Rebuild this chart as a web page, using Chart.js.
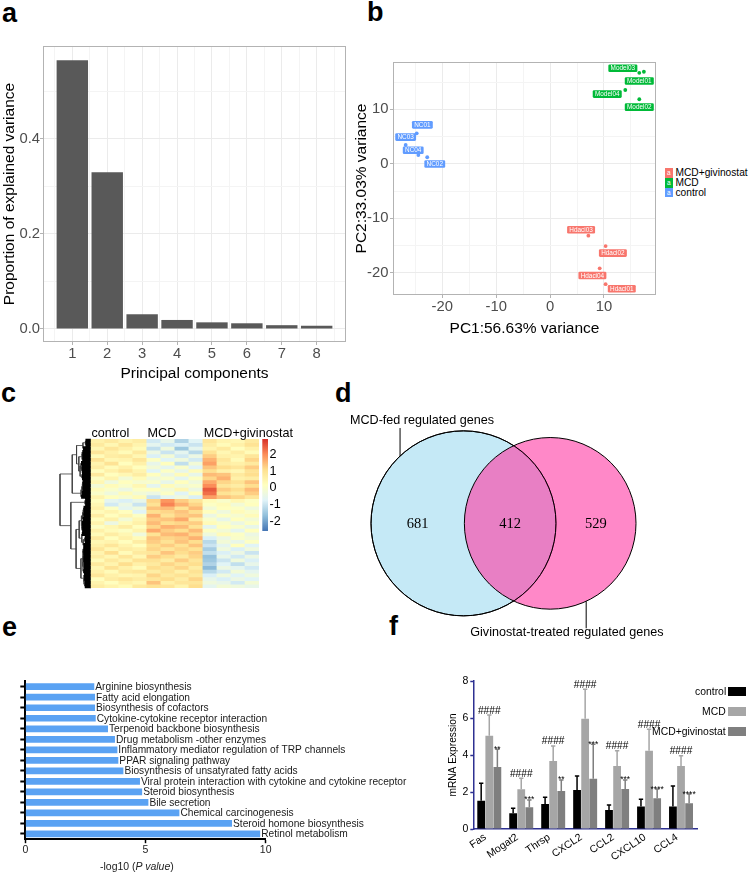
<!DOCTYPE html>
<html>
<head>
<meta charset="utf-8">
<title>PCA, heatmap, Venn, KEGG and qPCR panels</title>
<script src="https://cdn.jsdelivr.net/npm/chart.js@4.4.1/dist/chart.umd.min.js"></script>
<style>
  html, body { margin:0; padding:0; background:#ffffff; }
  body { position:relative; width:749px; height:872px; overflow:hidden; font-family:"Liberation Sans", Arial, Helvetica, sans-serif; color:#000; }
  canvas { position:absolute; }
  .panel { position:absolute; font-weight:bold; font-size:27px; line-height:27px; }
  .abs { position:absolute; white-space:nowrap; }
</style>
</head>
<body>
<div class="panel" style="left:2px;top:0px">a</div>
<div class="panel" style="left:367px;top:-1px">b</div>
<div class="panel" style="left:1px;top:380px">c</div>
<div class="panel" style="left:335px;top:380px">d</div>
<div class="panel" style="left:2px;top:614px">e</div>
<div class="panel" style="left:389px;top:613px">f</div>

<canvas id="chartA"></canvas>
<canvas id="chartB"></canvas>
<canvas id="chartDendro"></canvas>
<canvas id="chartHeat"></canvas>
<canvas id="chartScale"></canvas>
<canvas id="chartVenn"></canvas>
<canvas id="chartE"></canvas>
<canvas id="chartF"></canvas>
<div id="overlay"></div>

<script>
// ================= DATA =================
// a: PCA scree
const pcComponents = [1, 2, 3, 4, 5, 6, 7, 8];
const pcVariance = [0.566, 0.330, 0.031, 0.019, 0.014, 0.012, 0.008, 0.007];
const pcXLabels = ['1', '2', '3', '4', '5', '6', '7', '8'];
const pcXMinor = [0.5, 1.5, 2.5, 3.5, 4.5, 5.5, 6.5, 7.5, 8.5];
const pcYTicks = [0, 0.1, 0.2, 0.3, 0.4, 0.5];
const pcYLabels = ['0.0', '', '0.2', '', '0.4', ''];

// b: PCA scores
const pcaGroups = ['MCD+givinostat', 'MCD', 'control'];
const pcaColors = ['#F8766D', '#00BA38', '#619CFF'];
const sampleNames = ['NC01', 'NC02', 'NC03', 'NC04', 'Model01', 'Model02', 'Model03', 'Model04', 'Hdaci01', 'Hdaci02', 'Hdaci03', 'Hdaci04'];
const sampleGroup = ['control', 'control', 'control', 'control', 'MCD', 'MCD', 'MCD', 'MCD', 'MCD+givinostat', 'MCD+givinostat', 'MCD+givinostat', 'MCD+givinostat'];
const samplePC1 = [-24.75, -22.8, -26.8, -24.45, 17.4, 16.55, 16.55, 13.95, 10.3, 10.3, 7.1, 9.2];
const samplePC2 = [5.6, 1.2, 3.45, 1.6, 16.9, 11.85, 16.7, 13.55, -22.1, -15.1, -13.2, -19.2];
const labelPC1 = [-23.7, -21.4, -26.8, -25.4, 16.55, 16.55, 13.5, 10.6, 13.3, 11.65, 5.75, 7.85];
const labelPC2 = [7.15, -0.05, 4.9, 2.5, 15.2, 10.4, 17.55, 12.8, -22.95, -16.4, -12.1, -20.5];
const pcaXTicks = [-25, -20, -15, -10, -5, 0, 5, 10, 15];
const pcaXLabels = ['', '-20', '', '-10', '', '0', '', '10', ''];
const pcaYTicks = [-20, -15, -10, -5, 0, 5, 10, 15];
const pcaYLabels = ['-20', '', '-10', '', '0', '', '10', ''];

// c: heatmap (rows top to bottom; columns = 4 control, 4 MCD, 4 MCD+givinostat)
const heatGroups = ['control', 'MCD', 'MCD+givinostat'];
const heatGroupStart = [0, 4, 8];
const heatSamples = ['NC01', 'NC02', 'NC03', 'NC04', 'Model01', 'Model02', 'Model03', 'Model04', 'Hdaci01', 'Hdaci02', 'Hdaci03', 'Hdaci04'];
const heatRows = [
  [0.6, 0.8, 0.5, 0.7, -0.9, -0.5, -1.3, -0.7, 0.9, 0.5, 0.4, 0.8],
  [0.8, 0.4, 0.9, 0.5, -0.6, -0.9, -0.8, -1.0, 0.7, 0.3, 0.6, 1.0],
  [0.4, 0.9, 0.6, 0.3, -1.1, -0.3, -1.5, -0.6, 0.5, 0.8, 0.2, 0.6],
  [0.9, 0.6, 0.3, 0.8, -0.4, -1.0, -0.6, -1.2, 1.0, 0.4, 0.7, 0.3],
  [0.3, 0.7, 0.8, 0.4, -0.8, -0.2, -0.9, -0.4, 1.3, 0.6, 0.5, 0.9],
  [1.0, 0.4, 0.5, 0.9, 0.1, -0.7, -0.3, -0.9, 1.6, 0.9, 0.3, 1.2],
  [0.5, 1.0, 0.2, 0.6, -0.5, 0.2, -1.1, -0.2, 1.8, 0.7, 0.6, 0.8],
  [0.7, 0.3, 0.6, 0.2, -0.2, -0.6, 0.0, -0.7, 1.4, 1.1, 0.9, 1.3],
  [0.2, 0.6, 0.9, 0.5, -0.7, 0.1, -0.5, 0.3, 1.1, 0.6, 0.4, 1.0],
  [0.8, 0.2, 0.4, 0.7, 0.2, -0.4, 0.3, -0.5, 1.5, 1.4, 0.8, 1.1],
  [0.1, 0.5, -0.2, 0.3, -0.3, 0.0, -0.6, 0.1, 1.2, 1.6, 0.6, 0.7],
  [0.4, -0.3, 0.2, -0.1, 0.0, -0.5, 0.2, -0.3, 1.7, 1.2, 1.0, 1.4],
  [-0.2, 0.3, 0.0, 0.4, -0.6, 0.3, -0.2, 0.0, 2.0, 0.9, 0.7, 1.1],
  [0.3, 0.0, -0.4, 0.1, 0.2, -0.2, 0.4, -0.4, 2.5, 1.3, 1.1, 1.5],
  [0.0, -0.3, 0.3, -0.2, -0.4, 0.1, -0.7, 0.2, 2.3, 1.0, 0.8, 1.3],
  [0.5, 0.2, -0.1, 0.3, -1.0, -0.6, -0.3, -0.8, 1.8, 1.4, 1.2, 0.9],
  [0.2, -0.6, -0.8, -0.5, 1.2, 1.9, 1.3, 0.9, 0.3, 0.0, 0.4, 0.1],
  [0.4, -0.9, -0.4, -1.0, 1.0, 2.1, 1.6, 1.2, 0.1, 0.3, -0.2, 0.2],
  [0.6, 0.1, -0.6, -0.3, 1.4, 1.5, 1.0, 1.5, -0.2, 0.2, 0.1, -0.3],
  [0.3, 0.5, 0.2, -0.7, 1.1, 1.2, 1.4, 1.1, 0.2, -0.3, 0.3, 0.0],
  [0.7, 0.2, 0.5, 0.1, 1.6, 1.0, 1.3, 1.4, -0.4, 0.1, -0.1, 0.3],
  [0.2, 0.6, -0.2, 0.4, 1.3, 1.4, 1.7, 0.8, 0.0, -0.5, 0.2, -0.2],
  [0.5, -0.4, 0.3, 0.6, 1.5, 1.1, 1.2, 1.3, 0.3, 0.0, -0.4, 0.1],
  [0.1, 0.4, 0.7, 0.2, 1.2, 1.6, 1.5, 1.0, -0.6, 0.2, 0.0, -0.5],
  [0.6, 0.3, 0.1, 0.5, 1.7, 1.3, 1.1, 1.5, 0.1, -0.2, -0.6, 0.2],
  [0.3, 0.7, 0.4, -0.3, 1.0, 1.5, 1.6, 1.2, -0.3, 0.3, 0.1, -0.4],
  [0.8, 0.2, 0.6, 0.3, 1.4, 1.2, 1.3, 1.6, -0.8, -0.4, 0.0, -0.2],
  [0.4, 0.5, 0.2, 0.7, 1.3, 1.0, 1.4, 1.1, -1.2, -0.2, -0.5, 0.1],
  [0.6, 0.9, 0.5, 0.2, 1.1, 1.3, 1.0, 1.4, -1.0, -0.6, 0.2, -0.7],
  [0.9, 0.4, 0.7, 0.6, 1.2, 0.9, 1.2, 1.0, -1.4, -0.3, -0.8, -0.3],
  [0.5, 1.1, 0.3, 0.8, 0.9, 1.4, 1.1, 1.3, -1.1, -0.8, -0.4, -1.0],
  [0.7, 0.4, 0.9, 0.4, 1.3, 1.1, 0.8, 1.2, -1.6, -0.5, -0.9, -0.4],
  [0.3, 0.8, 0.5, 1.0, 1.0, 0.7, 1.3, 0.9, -1.5, -1.0, -0.3, -0.8],
  [0.8, 0.5, 1.1, 0.6, 0.8, 1.2, 0.9, 1.1, -1.3, -0.7, -1.1, -0.5],
  [0.4, 1.0, 0.6, 0.3, 1.1, 0.9, 1.2, 0.7, -1.7, -0.4, -0.6, -0.9],
  [0.6, 0.3, 0.8, 0.9, 0.7, 1.0, 0.6, 1.0, -1.2, -0.9, -0.2, -0.6],
  [0.9, 0.6, 0.4, 0.5, 1.2, 0.8, 1.0, 0.8, -0.8, -0.3, -0.7, -0.3],
  [0.2, 0.7, 0.9, 0.7, 0.9, 1.1, 0.7, 1.2, -0.5, -0.8, -0.4, -0.7],
  [0.5, 0.2, 0.6, 0.4, 1.4, 0.6, 0.9, 0.9, -0.3, -0.5, -0.9, -0.2],
  [0.7, 0.5, 0.3, 0.8, 1.0, 0.9, 0.5, 1.1, -0.6, -0.2, -0.3, -0.5]
];
const heatMin = -2.57, heatMax = 2.92;
const heatPalette = ['#4575B4', '#91BFDB', '#E0F3F8', '#FFFFBF', '#FEE090', '#FC8D59', '#D73027'];
const heatLegendTicks = [-2, -1, 0, 1, 2];
const heatLegendLabels = ['-2', '-1', '0', '1', '2'];

// d: Venn
const vennSets = ['MCD-fed regulated genes', 'Givinostat-treated regulated genes'];
const vennOnly = [681, 529];
const vennBoth = 412;

// e: KEGG enrichment (top to bottom)
const keggTerms = ['Arginine biosynthesis', 'Fatty acid elongation', 'Biosynthesis of cofactors', 'Cytokine-cytokine receptor interaction',
  'Terpenoid backbone biosynthesis', 'Drug metabolism -other enzymes', 'Inflammatory mediator regulation of TRP channels',
  'PPAR signaling pathway', 'Biosynthesis of unsatyrated fatty acids', 'Viral protein interaction with cytokine and cytokine receptor',
  'Steroid biosynthesis', 'Bile secretion', 'Chemical carcinogenesis', 'Steroid homone biosynthesis', 'Retinol metabolism'];
const keggLog10P = [2.87, 2.90, 2.90, 2.93, 3.44, 3.73, 3.83, 3.87, 4.08, 4.77, 4.86, 5.12, 6.41, 8.60, 9.77];
const keggXTicks = [0, 5, 10];

// f: qPCR
const genes = ['Fas', 'Mogat2', 'Thrsp', 'CXCL2', 'CCL2', 'CXCL10', 'CCL4'];
const qGroups = ['control', 'MCD', 'MCD+givinostat'];
const qColors = ['#000000', '#A6A6A6', '#7F7F7F'];
const qMean = [
  [1.53, 0.85, 1.35, 2.11, 1.03, 1.21, 1.21],
  [5.04, 2.15, 3.68, 5.96, 3.41, 4.23, 3.41],
  [3.35, 1.17, 2.05, 2.72, 2.16, 1.66, 1.39]
];
const qSD = [
  [0.94, 0.27, 0.36, 0.75, 0.27, 0.40, 1.11],
  [1.12, 0.59, 0.81, 1.59, 0.82, 1.16, 0.55],
  [0.96, 0.40, 0.60, 1.86, 0.49, 0.50, 0.50]
];
const sigVsControl = ['####', '####', '####', '####', '####', '####', '####'];
const sigVsMCD = ['**', '***', '**', '***', '***', '****', '****'];
const qYTicks = [0, 2, 4, 6, 8];

// ================= HELPERS =================
const F = '"Liberation Sans", Arial, Helvetica, sans-serif';
Chart.defaults.font.family = F;
const base = { responsive: false, animation: false, devicePixelRatio: 1, events: [],
  plugins: { legend: { display: false }, tooltip: { enabled: false } } };

function place(id, box, m) {
  const c = document.getElementById(id);
  const W = Math.round(box.w + m.l + m.r), H = Math.round(box.h + m.t + m.b);
  c.width = W; c.height = H;
  c.style.width = W + 'px'; c.style.height = H + 'px';
  c.style.left = (box.x - m.l) + 'px'; c.style.top = (box.y - m.t) + 'px';
  return c;
}
function lay(m, axes) {
  return { autoPadding: false, padding: {
    top: axes.top ? 0 : m.t, right: axes.right ? 0 : m.r, left: axes.left ? 0 : m.l, bottom: axes.bottom ? 0 : m.b } };
}
function noPad(s) { s.paddingLeft = 0; s.paddingRight = 0; s.paddingTop = 0; s.paddingBottom = 0; }
const panelBorder = { id: 'panelBorder', afterDatasetsDraw(chart) {
  const a = chart.chartArea, c = chart.ctx;
  c.save(); c.strokeStyle = '#B3B3B3'; c.lineWidth = 1;
  c.strokeRect(Math.round(a.left) + 0.5, Math.round(a.top) + 0.5, Math.round(a.right - a.left) - 1, Math.round(a.bottom - a.top) - 1);
  c.restore(); } };
const overlay = document.getElementById('overlay');
function addText(txt, x, y, css) {
  const d = document.createElement('div'); d.className = 'abs';
  d.style.cssText += css || '';
  d.style.left = x + 'px'; d.style.top = y + 'px';
  d.innerHTML = txt; overlay.appendChild(d); return d;
}
function safe(fn) { try { fn(); } catch (e) { console.error(e); } }

// ================= PANEL a =================
safe(() => {
const boxA = { x: 43, y: 46, w: 303, h: 296 }, mA = { l: 43, t: 16, r: 4, b: 48 };
new Chart(place('chartA', boxA, mA), {
  type: 'bar',
  data: { datasets: [{ data: pcComponents.map((c, i) => ({ x: c, y: pcVariance[i] })),
    backgroundColor: '#595959', borderWidth: 0, barPercentage: 1, categoryPercentage: 0.9 }] },
  options: { ...base, layout: lay(mA, { left: 1, bottom: 1 }),
    scales: {
      x: { type: 'linear', min: 0.16, max: 8.84, offset: false,
        afterBuildTicks: s => { s.ticks = pcComponents.map(v => ({ value: v })); },
        afterFit: s => { s.height = mA.b; noPad(s); },
        ticks: { callback: (v, i) => pcXLabels[i], font: { size: 14.8 }, color: '#4D4D4D', padding: 0, maxRotation: 0, autoSkip: false },
        grid: { offset: false, color: '#EBEBEB', tickLength: 3, tickColor: '#B3B3B3' },
        border: { display: false },
        title: { display: true, text: 'Principal components', color: '#000', font: { size: 15.5 }, padding: { top: 0, bottom: 6.7 } } },
      xMinor: { type: 'linear', position: 'bottom', min: 0.16, max: 8.84, offset: false,
        afterBuildTicks: s => { s.ticks = pcXMinor.map(v => ({ value: v })); },
        afterFit: s => { s.height = 0; noPad(s); },
        ticks: { display: false },
        grid: { offset: false, color: '#F4F4F4', drawTicks: false, tickLength: 0 },
        border: { display: false } },
      y: { min: -0.0274, max: 0.5958,
        afterBuildTicks: s => { s.ticks = pcYTicks.map(v => ({ value: v })); },
        afterFit: s => { s.width = mA.l; noPad(s); },
        ticks: { callback: (v, i) => pcYLabels[i], font: { size: 14.8 }, color: '#4D4D4D', padding: 0 },
        grid: { color: c => pcYLabels[c.index] ? '#EBEBEB' : '#F4F4F4', tickLength: 3,
          tickColor: c => pcYLabels[c.index] ? '#B3B3B3' : 'rgba(0,0,0,0)' },
        border: { display: false },
        title: { display: true, text: 'Proportion of explained variance', color: '#000', font: { size: 15.5 }, padding: { top: 0, bottom: 0 } } }
    } },
  plugins: [panelBorder]
});
});

// ================= PANEL b =================
const colorOf = g => pcaColors[pcaGroups.indexOf(g)];
safe(() => {
const boxB = { x: 393, y: 62, w: 263, h: 233 }, mB = { l: 43, t: 22, r: 4, b: 45 };
const pcaLabelPlugin = { id: 'pcaLabels', afterDatasetsDraw(chart) {
  const { ctx, scales: { x, y } } = chart;
  ctx.save(); ctx.font = '6.4px ' + F; ctx.textAlign = 'center'; ctx.textBaseline = 'middle';
  sampleNames.forEach((n, i) => {
    const px = x.getPixelForValue(labelPC1[i]), py = y.getPixelForValue(labelPC2[i]);
    const w = ctx.measureText(n).width + 4.5, h = 7.6, r = 1.3, x0 = px - w / 2, y0 = py - h / 2;
    ctx.beginPath();
    ctx.moveTo(x0 + r, y0); ctx.lineTo(x0 + w - r, y0); ctx.quadraticCurveTo(x0 + w, y0, x0 + w, y0 + r);
    ctx.lineTo(x0 + w, y0 + h - r); ctx.quadraticCurveTo(x0 + w, y0 + h, x0 + w - r, y0 + h);
    ctx.lineTo(x0 + r, y0 + h); ctx.quadraticCurveTo(x0, y0 + h, x0, y0 + h - r);
    ctx.lineTo(x0, y0 + r); ctx.quadraticCurveTo(x0, y0, x0 + r, y0); ctx.closePath();
    ctx.fillStyle = colorOf(sampleGroup[i]); ctx.fill();
    ctx.fillStyle = '#FFFFFF'; ctx.fillText(n, px, py + 0.4);
  });
  ctx.restore(); } };
new Chart(place('chartB', boxB, mB), {
  type: 'scatter',
  data: { datasets: pcaGroups.map((g, k) => ({
    label: g,
    data: sampleNames.map((n, i) => i).filter(i => sampleGroup[i] === g).map(i => ({ x: samplePC1[i], y: samplePC2[i] })),
    backgroundColor: pcaColors[k], borderWidth: 0, pointRadius: 1.9 })) },
  options: { ...base, layout: lay(mB, { left: 1, bottom: 1 }),
    scales: {
      x: { type: 'linear', min: -29.15, max: 19.65,
        afterBuildTicks: s => { s.ticks = pcaXTicks.map(v => ({ value: v })); },
        afterFit: s => { s.height = mB.b; noPad(s); },
        ticks: { callback: (v, i) => pcaXLabels[i], font: { size: 14.8 }, color: '#4D4D4D', padding: 0, maxRotation: 0, autoSkip: false },
        grid: { color: c => pcaXLabels[c.index] ? '#EBEBEB' : '#F4F4F4', tickLength: 3,
          tickColor: c => pcaXLabels[c.index] ? '#B3B3B3' : 'rgba(0,0,0,0)' },
        border: { display: false },
        title: { display: true, text: 'PC1:56.63% variance', color: '#000', font: { size: 15.5 }, padding: { top: 0, bottom: 1.7 } } },
      y: { min: -24.09, max: 18.69,
        afterBuildTicks: s => { s.ticks = pcaYTicks.map(v => ({ value: v })); },
        afterFit: s => { s.width = mB.l; noPad(s); },
        ticks: { callback: (v, i) => pcaYLabels[i], font: { size: 14.8 }, color: '#4D4D4D', padding: 1.5 },
        grid: { color: c => pcaYLabels[c.index] ? '#EBEBEB' : '#F4F4F4', tickLength: 3,
          tickColor: c => pcaYLabels[c.index] ? '#B3B3B3' : 'rgba(0,0,0,0)' },
        border: { display: false },
        title: { display: true, text: 'PC2:33.03% variance', color: '#000', font: { size: 15.5 }, padding: { top: 2.7, bottom: 0 } } }
    } },
  plugins: [panelBorder, pcaLabelPlugin]
});
});
// legend b
pcaGroups.forEach((g, k) => {
  const yc = 173 + k * 9.85;
  addText('a', 665, yc - 4.8, 'width:7.7px;height:9.6px;background:' + pcaColors[k] + ';color:#fff;font-size:6.5px;line-height:9.6px;text-align:center;');
  addText(g, 675.5, yc - 6.2, 'font-size:10.2px;line-height:12px;color:#000;');
});

// ================= PANEL c =================
function heatColor(v) {
  let t = (v - heatMin) / (heatMax - heatMin); t = Math.max(0, Math.min(1, t));
  const n = heatPalette.length, p = t * (n - 1), i = Math.min(n - 2, Math.floor(p)), f = p - i;
  const h2r = h => [parseInt(h.slice(1, 3), 16), parseInt(h.slice(3, 5), 16), parseInt(h.slice(5, 7), 16)];
  const a = h2r(heatPalette[i]), b = h2r(heatPalette[i + 1]);
  return 'rgb(' + a.map((c, k) => Math.round(c + (b[k] - c) * f)).join(',') + ')';
}
const nRows = heatRows.length, nCols = heatSamples.length;
safe(() => {
const boxH = { x: 90.7, y: 439, w: 168.5, h: 148.7 }, mH = { l: 0.7, t: 19, r: 40, b: 1 };
const groupText = { id: 'groupText', afterDraw(chart) {
  const { ctx, chartArea, scales: { x } } = chart;
  ctx.save(); ctx.font = '12.6px ' + F; ctx.fillStyle = '#000'; ctx.textAlign = 'left'; ctx.textBaseline = 'alphabetic';
  heatGroups.forEach((g, i) => ctx.fillText(g, x.getPixelForValue(heatGroupStart[i]) + 0.8, chartArea.top - 1.8));
  ctx.restore(); } };
new Chart(place('chartHeat', boxH, mH), {
  type: 'bar',
  data: { datasets: heatRows.map((row, r) => ({
    data: row.map((v, j) => ({ x: j + 0.5, y: [r, r + 1] })),
    backgroundColor: row.map(v => heatColor(v)), borderWidth: 0, grouped: false,
    barPercentage: 1, categoryPercentage: 1 })) },
  options: { ...base, layout: lay(mH, {}),
    scales: {
      x: { type: 'linear', display: false, offset: false, grid: { offset: false }, min: 0, max: nCols },
      y: { display: false, min: 0, max: nRows, reverse: true }
    } },
  plugins: [groupText]
});
});

// dendrogram: contiguous complete-linkage clustering of the heatmap rows
function dendro(rows) {
  const ed = (a, b) => Math.sqrt(a.reduce((s, v, k) => s + (v - b[k]) * (v - b[k]), 0));
  let cl = rows.map((r, i) => ({ m: [i], pos: i + 0.5, h: 0 }));
  const segs = [], stubs = [];
  const link = (a, b) => { let s = 0; a.m.forEach(i => b.m.forEach(j => { s = Math.max(s, ed(rows[i], rows[j])); })); return s; };
  while (cl.length > 1) {
    let best = 0, bd = Infinity;
    for (let i = 0; i < cl.length - 1; i++) { const d = link(cl[i], cl[i + 1]); if (d < bd) { bd = d; best = i; } }
    const a = cl[best], b = cl[best + 1], h = Math.max(bd, a.h, b.h);
    [a, b].forEach(c => { (c.h === 0 ? stubs : segs).push({ x: c.h, y: c.pos }, { x: h, y: c.pos }, { x: NaN, y: NaN }); });
    segs.push({ x: h, y: a.pos }, { x: h, y: b.pos }, { x: NaN, y: NaN });
    cl.splice(best, 2, { m: a.m.concat(b.m), pos: (a.pos + b.pos) / 2, h });
  }
  return { segs, stubs, root: cl[0].h };
}
safe(() => {
const tree = dendro(heatRows);
const boxD = { x: 60, y: 439, w: 30.7, h: 148.7 }, mD = { l: 4, t: 2, r: 1, b: 2 };
new Chart(place('chartDendro', boxD, mD), {
  type: 'scatter',
  data: { datasets: [
    { data: tree.stubs, showLine: true, borderColor: '#000', borderWidth: 4.2, pointRadius: 0, spanGaps: false, clip: false, borderCapStyle: 'butt' },
    { data: tree.segs, showLine: true, borderColor: '#3C3C3C', borderWidth: 0.8, pointRadius: 0, spanGaps: false, clip: false }
  ] },
  options: { ...base, layout: lay(mD, {}),
    scales: { x: { display: false, min: 0, max: tree.root, reverse: true },
      y: { display: false, min: 0, max: nRows, reverse: true } } }
});
});
// color key
safe(() => {
const boxS = { x: 262.3, y: 439, w: 5.4, h: 91.7 }, mS = { l: 0.3, t: 3, r: 22, b: 4 };
new Chart(place('chartScale', boxS, mS), {
  type: 'bar',
  data: { labels: [''], datasets: [{ data: [[heatMin, heatMax]], barPercentage: 1, categoryPercentage: 1, borderWidth: 0,
    backgroundColor: ctx => {
      const ch = ctx.chart, ys = ch.scales && ch.scales.y; if (!ys) return '#ccc';
      const p0 = ys.getPixelForValue(heatMin), p1 = ys.getPixelForValue(heatMax);
      if (!isFinite(p0) || !isFinite(p1) || p0 === p1) return '#ccc';
      const g = ch.ctx.createLinearGradient(0, p0, 0, p1);
      heatPalette.forEach((c, i) => g.addColorStop(i / (heatPalette.length - 1), c)); return g; } }] },
  options: { ...base, layout: lay(mS, { right: 1 }),
    scales: { x: { display: false },
      y: { position: 'right', min: heatMin, max: heatMax,
        afterBuildTicks: s => { s.ticks = heatLegendTicks.map(v => ({ value: v })); },
        afterFit: s => { s.width = mS.r; noPad(s); },
        ticks: { callback: (v, i) => heatLegendLabels[i], font: { size: 12.6 }, color: '#000', padding: 1.6 },
        grid: { display: false, drawTicks: false, tickLength: 0 }, border: { display: false } } } }
});
});

// ================= PANEL d =================
function lensArea(r1, r2, d) {
  if (d >= r1 + r2) return 0;
  if (d <= Math.abs(r1 - r2)) return Math.PI * Math.min(r1, r2) ** 2;
  const a = r1 * r1 * Math.acos((d * d + r1 * r1 - r2 * r2) / (2 * d * r1));
  const b = r2 * r2 * Math.acos((d * d + r2 * r2 - r1 * r1) / (2 * d * r2));
  const c = 0.5 * Math.sqrt((-d + r1 + r2) * (d + r1 - r2) * (d - r1 + r2) * (d + r1 + r2));
  return a + b - c;
}
const rA = Math.sqrt((vennOnly[0] + vennBoth) / Math.PI), rB = Math.sqrt((vennOnly[1] + vennBoth) / Math.PI);
let lo = Math.abs(rA - rB), hi = rA + rB;
for (let k = 0; k < 80; k++) { const mid = (lo + hi) / 2; if (lensArea(rA, rB, mid) > vennBoth) lo = mid; else hi = mid; }
const dAB = (lo + hi) / 2;
safe(() => {
const boxV = { x: 371, y: 431, w: 265, h: 184.7 }, mV = { l: 41, t: 26, r: 113, b: 34.3 };
const pxPerUnit = boxV.w / (rA + dAB + rB), yHalf = (boxV.h / 2) / pxPerUnit;
const pxR = (chart, r) => Math.abs(chart.scales.x.getPixelForValue(r) - chart.scales.x.getPixelForValue(0));
const vennText = { id: 'vennText', afterDatasetsDraw(chart) {
  const { ctx, scales: { x, y } } = chart;
  ctx.save();
  ctx.font = '14.5px "Liberation Serif", "Times New Roman", serif'; ctx.fillStyle = '#000';
  ctx.textAlign = 'center'; ctx.textBaseline = 'middle';
  const pos = [(-rA + (dAB - rB)) / 2, ((dAB - rB) + rA) / 2, (rA + dAB + rB) / 2];
  [vennOnly[0], vennBoth, vennOnly[1]].forEach((v, i) => ctx.fillText(String(v), x.getPixelForValue(pos[i]), y.getPixelForValue(0) + 0.5));
  ctx.font = '12.6px ' + F; ctx.strokeStyle = '#000'; ctx.lineWidth = 1;
  const tA = 133.3 * Math.PI / 180, tB = -65.2 * Math.PI / 180;
  const ax = x.getPixelForValue(rA * Math.cos(tA)), ay = y.getPixelForValue(rA * Math.sin(tA));
  ctx.beginPath(); ctx.moveTo(ax, ay); ctx.lineTo(ax, ay - 28); ctx.stroke();
  ctx.fillText(vennSets[0], ax + 22, ay - 36);
  const bx = x.getPixelForValue(dAB + rB * Math.cos(tB)), by = y.getPixelForValue(rB * Math.sin(tB));
  ctx.beginPath(); ctx.moveTo(bx, by); ctx.lineTo(bx, by + 27); ctx.stroke();
  ctx.fillText(vennSets[1], bx - 19.3, by + 31.5);
  ctx.restore(); } };
const vch = new Chart(place('chartVenn', boxV, mV), {
  type: 'bubble',
  data: { datasets: [
    { data: [{ x: 0, y: 0, r: 1 }], backgroundColor: '#C5E9F6', borderColor: '#000', borderWidth: 1, order: 3, clip: false },
    { data: [{ x: dAB, y: 0, r: 1 }], backgroundColor: 'rgba(255,57,163,0.6)', borderColor: '#000', borderWidth: 1, order: 2, clip: false },
    { data: [{ x: 0, y: 0, r: 1 }], backgroundColor: 'rgba(0,0,0,0)', borderColor: '#000', borderWidth: 1, order: 1, clip: false }
  ] },
  options: { ...base, layout: lay(mV, {}),
    scales: { x: { display: false, min: -rA, max: dAB + rB }, y: { display: false, min: -yHalf, max: yHalf } } },
  plugins: [vennText]
});
[rA, rB, rA].forEach((r, i) => { vch.data.datasets[i].data[0].r = pxR(vch, r); });
vch.update();
});

// ================= PANEL e =================
safe(() => {
const boxE = { x: 25.3, y: 681.45, w: 240.4, h: 157.75 }, mE = { l: 25.3, t: 21.45, r: 164.3, b: 32.8 };
const keggText = { id: 'keggText', afterDatasetsDraw(chart) {
  const ctx = chart.ctx, meta = chart.getDatasetMeta(0);
  ctx.save(); ctx.font = '10.2px ' + F; ctx.fillStyle = '#1A1A1A'; ctx.textAlign = 'left'; ctx.textBaseline = 'middle';
  meta.data.forEach((bar, i) => ctx.fillText(keggTerms[i], bar.x + 1, bar.y + 0.5));
  ctx.restore(); } };
new Chart(place('chartE', boxE, mE), {
  type: 'bar',
  data: { labels: keggTerms, datasets: [{ data: keggLog10P, backgroundColor: '#5AA2F3', borderWidth: 0, barPercentage: 1, categoryPercentage: 0.64 }] },
  options: { ...base, indexAxis: 'y', layout: lay(mE, { left: 1, bottom: 1 }),
    scales: {
      x: { type: 'linear', min: 0, max: 10,
        afterBuildTicks: s => { s.ticks = keggXTicks.map(v => ({ value: v })); },
        afterFit: s => { s.height = mE.b; noPad(s); },
        ticks: { font: { size: 10.5 }, color: '#222', padding: 1, maxRotation: 0 },
        grid: { drawOnChartArea: false, tickLength: 4, tickWidth: 1.5, tickColor: '#000' },
        border: { color: '#000', width: 2 } },
      y: { afterFit: s => { s.width = mE.l; noPad(s); },
        ticks: { display: false },
        grid: { drawOnChartArea: false, offset: false, tickLength: 5, tickWidth: 2, tickColor: '#000' },
        border: { color: '#000', width: 2 } }
    } },
  plugins: [keggText]
});
});
addText('-log10 (<i>P value</i>)', 100, 860, 'font-size:10.5px;line-height:13px;color:#222;');

// ================= PANEL f =================
safe(() => {
const boxF = { x: 473.3, y: 681, w: 224, h: 148 }, mF = { l: 33.3, t: 16, r: 3, b: 43 };
const navy = '#2E3192';
const qpcrMarks = { id: 'qpcrMarks', afterDatasetsDraw(chart) {
  const { ctx, scales: { y } } = chart;
  ctx.save();
  qGroups.forEach((g, k) => {
    const meta = chart.getDatasetMeta(k);
    meta.data.forEach((bar, j) => {
      const top = y.getPixelForValue(qMean[k][j]), et = y.getPixelForValue(qMean[k][j] + qSD[k][j]);
      ctx.strokeStyle = qColors[k]; ctx.lineWidth = 1.5;
      ctx.beginPath(); ctx.moveTo(bar.x, top); ctx.lineTo(bar.x, et);
      ctx.moveTo(bar.x - bar.width * 0.28, et); ctx.lineTo(bar.x + bar.width * 0.28, et); ctx.stroke();
      ctx.fillStyle = '#000'; ctx.textAlign = 'center';
      if (k === 1) { ctx.font = '10.2px ' + F; ctx.textBaseline = 'alphabetic'; ctx.fillText(sigVsControl[j], bar.x, et - 1.5); }
      if (k === 2) { ctx.font = '8.5px ' + F; ctx.textBaseline = 'alphabetic'; ctx.fillText(sigVsMCD[j], bar.x, et + 2.5); }
    });
  });
  ctx.restore(); } };
new Chart(place('chartF', boxF, mF), {
  type: 'bar',
  data: { labels: genes, datasets: qGroups.map((g, k) => ({ label: g, data: qMean[k], backgroundColor: qColors[k], borderWidth: 0,
    barPercentage: 0.96, categoryPercentage: 0.76 })) },
  options: { ...base, layout: lay(mF, { left: 1, bottom: 1 }),
    scales: {
      x: { afterFit: s => { s.height = mF.b; noPad(s); },
        ticks: { font: { size: 10.5 }, color: '#000', minRotation: 34, maxRotation: 34, autoSkip: false, labelOffset: -4, padding: -6 },
        grid: { display: false }, border: { color: navy, width: 1.5 } },
      y: { min: 0, max: 8,
        afterBuildTicks: s => { s.ticks = qYTicks.map(v => ({ value: v })); },
        afterFit: s => { s.width = mF.l; noPad(s); },
        ticks: { font: { size: 10.5 }, color: '#000', padding: 2 },
        grid: { drawOnChartArea: false, tickLength: 3, tickWidth: 1.5, tickColor: navy },
        border: { color: navy, width: 1.5 },
        title: { display: true, text: 'mRNA Expression', color: '#000', font: { size: 10.2 }, padding: { top: 6.6, bottom: 0 } } }
    } },
  plugins: [qpcrMarks]
});
});
// legend f
qGroups.forEach((g, k) => {
  const yc = 691.5 + k * 20.1;
  const t = addText(g, 0, yc - 6.5, 'font-size:10.4px;line-height:13px;color:#000;');
  t.style.left = (726 - t.offsetWidth) + 'px';
  addText('', 728.3, yc - 4.7, 'width:17.4px;height:9.4px;background:' + qColors[k] + ';');
});
</script>
</body>
</html>
